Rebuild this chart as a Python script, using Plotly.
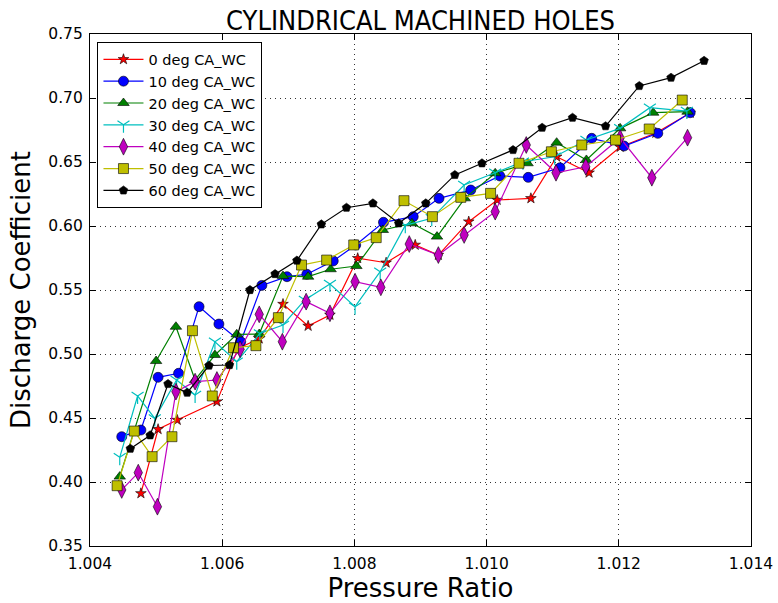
import plotly.graph_objects as go

# ---- data ----
x0 = [1.00477, 1.00503, 1.00532, 1.00592, 1.00624, 1.00656, 1.00692, 1.0073, 1.00763, 1.00805, 1.00848, 1.00892, 1.00927, 1.00973, 1.01016, 1.01067, 1.01106, 1.01155, 1.01202, 1.01256, 1.01308]
y0 = [0.3911, 0.4412, 0.4484, 0.4628, 0.5044, 0.512, 0.539, 0.5219, 0.5305, 0.5748, 0.5713, 0.5852, 0.5773, 0.6034, 0.6203, 0.6216, 0.6541, 0.6416, 0.6617, 0.6727, 0.6883]

x10 = [1.00448, 1.00477, 1.00503, 1.00534, 1.00565, 1.00595, 1.00628, 1.0066, 1.00698, 1.00728, 1.00768, 1.00802, 1.00844, 1.00889, 1.00928, 1.00976, 1.0102, 1.01063, 1.01111, 1.01159, 1.01208, 1.01259, 1.01308]
y10 = [0.4354, 0.4406, 0.4818, 0.4849, 0.537, 0.5234, 0.5096, 0.5536, 0.5604, 0.5623, 0.5727, 0.5852, 0.6029, 0.6073, 0.6216, 0.6281, 0.6391, 0.638, 0.6455, 0.6685, 0.6625, 0.6724, 0.6885]

x20 = [1.00445, 1.005, 1.0053, 1.00559, 1.00589, 1.00622, 1.00656, 1.00692, 1.0073, 1.00764, 1.00803, 1.00843, 1.00887, 1.00925, 1.00967, 1.01013, 1.01062, 1.01106, 1.01151, 1.01202, 1.01252, 1.01304]
y20 = [0.4042, 0.4945, 0.5213, 0.4797, 0.4992, 0.5154, 0.5156, 0.5609, 0.5604, 0.5662, 0.5687, 0.5969, 0.6021, 0.5917, 0.6216, 0.6412, 0.649, 0.6651, 0.6516, 0.6763, 0.6885, 0.6893]

x30 = [1.00445, 1.00472, 1.00498, 1.00531, 1.00559, 1.00589, 1.00622, 1.00657, 1.00692, 1.00725, 1.00763, 1.00801, 1.00839, 1.00877, 1.00917, 1.00966, 1.01013, 1.01055, 1.01103, 1.01151, 1.01202, 1.01247, 1.01303]
y30 = [0.4193, 0.4672, 0.4497, 0.4797, 0.468, 0.5096, 0.494, 0.516, 0.5227, 0.5422, 0.5547, 0.537, 0.5643, 0.6005, 0.606, 0.632, 0.6416, 0.6502, 0.6541, 0.6672, 0.6763, 0.6924, 0.6898]

x40 = [1.00448, 1.00473, 1.00502, 1.0053, 1.00559, 1.00592, 1.00627, 1.00656, 1.00691, 1.00727, 1.00763, 1.00801, 1.0084, 1.00883, 1.00927, 1.00966, 1.01013, 1.0106, 1.01105, 1.0115, 1.01202, 1.0125, 1.01304]
y40 = [0.3938, 0.4073, 0.3807, 0.4706, 0.4784, 0.4797, 0.5037, 0.531, 0.5096, 0.5409, 0.5318, 0.5565, 0.5521, 0.5859, 0.5773, 0.593, 0.6112, 0.6633, 0.6416, 0.6463, 0.6688, 0.6377, 0.669]

x50 = [1.00441, 1.00467, 1.00494, 1.00524, 1.00555, 1.00585, 1.00617, 1.00651, 1.00685, 1.0072, 1.00758, 1.00799, 1.00833, 1.00875, 1.00918, 1.00961, 1.01006, 1.01049, 1.01098, 1.01144, 1.01195, 1.01246, 1.01296]
y50 = [0.3971, 0.4398, 0.4198, 0.4354, 0.5182, 0.4672, 0.5049, 0.5065, 0.5284, 0.5695, 0.5734, 0.5852, 0.5909, 0.6198, 0.6073, 0.6224, 0.6255, 0.649, 0.658, 0.6633, 0.6672, 0.6758, 0.6984]

x60 = [1.00461, 1.00491, 1.00518, 1.00547, 1.0058, 1.00611, 1.00642, 1.0068, 1.00713, 1.0075, 1.00788, 1.00828, 1.00867, 1.00908, 1.00952, 1.00993, 1.0104, 1.01084, 1.0113, 1.0118, 1.01231, 1.01279, 1.01329]
y60 = [0.426, 0.4365, 0.4766, 0.4698, 0.491, 0.4914, 0.55, 0.5625, 0.573, 0.6013, 0.6143, 0.6177, 0.6021, 0.6177, 0.6399, 0.649, 0.6594, 0.6768, 0.6846, 0.678, 0.7094, 0.7159, 0.7291]

names = ["0 deg CA_WC", "10 deg CA_WC", "20 deg CA_WC", "30 deg CA_WC",
         "40 deg CA_WC", "50 deg CA_WC", "60 deg CA_WC"]
xs = [x0, x10, x20, x30, x40, x50, x60]
ys = [y0, y10, y20, y30, y40, y50, y60]

x_ticks = [1.004, 1.006, 1.008, 1.010, 1.012, 1.014]
x_ticklabels = ["1.004", "1.006", "1.008", "1.010", "1.012", "1.014"]
y_ticks = [0.35, 0.40, 0.45, 0.50, 0.55, 0.60, 0.65, 0.70, 0.75]
y_ticklabels = ["0.35", "0.40", "0.45", "0.50", "0.55", "0.60", "0.65", "0.70", "0.75"]

# ---- styles ----
colors = ["#FF0000", "#0000FF", "#008000", "#00BFBF", "#BF00BF", "#BFBF00", "#000000"]
symbols = ["star", "circle", "triangle-up", "y-down", "diamond-tall", "square", "pentagon"]
sizes = [8, 10, 10, 10, 12, 10, 9]

fig = go.Figure()
for i in range(7):
    if symbols[i] == "y-down":
        marker = dict(symbol="y-down-open", size=sizes[i], color=colors[i],
                      line=dict(color=colors[i], width=1.2))
    else:
        marker = dict(symbol=symbols[i], size=sizes[i], color=colors[i],
                      line=dict(color="black", width=0.6))
    fig.add_trace(go.Scatter(x=xs[i], y=ys[i], mode="lines+markers", name=names[i],
                             line=dict(color=colors[i], width=1.2), marker=marker))

axis_common = dict(
    showline=True, linecolor="black", linewidth=1.2, mirror="allticks",
    ticks="inside", ticklen=6, tickcolor="black", automargin=False,
    showgrid=True, gridcolor="#333333", griddash="1px,4px", gridwidth=1,
    zeroline=False, tickfont=dict(family="DejaVu Sans", size=15.5, color="black"),
)

fig.update_layout(
    width=778, height=603,
    margin=dict(l=90, r=27, t=34, b=57),
    paper_bgcolor="white", plot_bgcolor="white",
    title=dict(text="CYLINDRICAL MACHINED HOLES", x=0.5, xanchor="center",
               xref="paper", y=0.966, yanchor="middle",
               font=dict(family="DejaVu Sans Condensed, DejaVu Sans", size=27, color="black")),
    xaxis=dict(range=[1.004, 1.014], tickvals=x_ticks, ticktext=x_ticklabels,
               ticklabelstandoff=3,
               title=dict(text="Pressure Ratio", standoff=9,
                          font=dict(family="DejaVu Sans", size=26, color="black")),
               **axis_common),
    yaxis=dict(range=[0.35, 0.75], tickvals=y_ticks, ticktext=y_ticklabels,
               ticklabelstandoff=3,
               title=dict(text="Discharge Coefficient", standoff=10,
                          font=dict(family="DejaVu Sans", size=26, color="black")),
               **axis_common),
    legend=dict(x=0.011, y=0.984, xanchor="left", yanchor="top",
                bgcolor="white", bordercolor="black", borderwidth=1.2,
                font=dict(family="DejaVu Sans", size=14.5, color="black"),
                tracegroupgap=0, itemwidth=40),
    showlegend=True,
)

fig.write_html("out.html")
